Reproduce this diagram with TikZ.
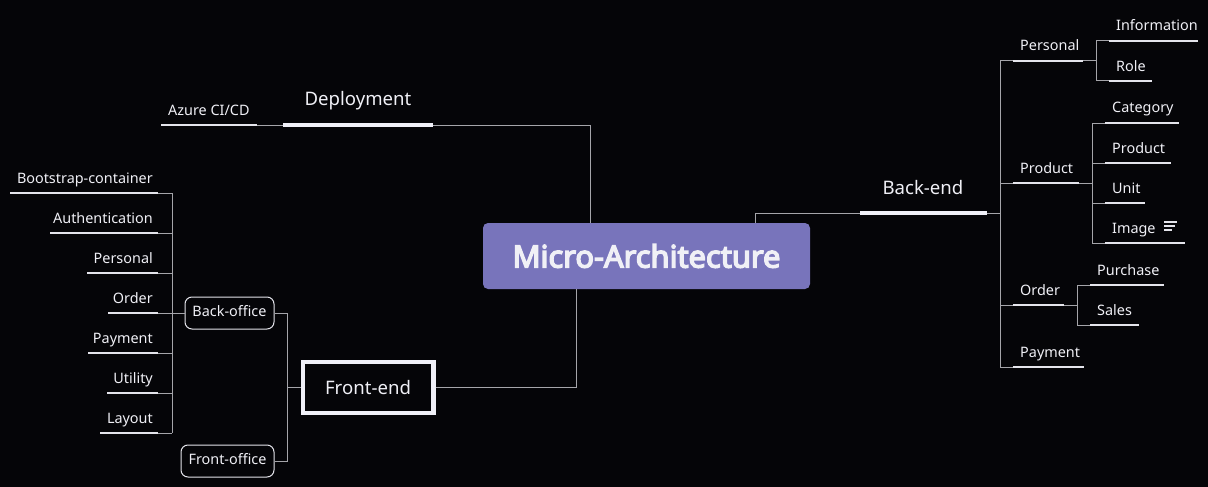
\documentclass[tikz,border=0pt]{standalone}
\usepackage{fontspec}
\setmainfont{Noto Sans}
\newfontfamily\titlefont{Noto Sans}[FakeBold=4.5]
\definecolor{bg}{RGB}{5,5,8}
\definecolor{mainfill}{RGB}{120,116,187}
\definecolor{txt}{RGB}{240,240,246}
\definecolor{conn}{RGB}{165,165,170}
\definecolor{uln}{RGB}{228,228,235}
\definecolor{brd}{RGB}{240,240,248}
\tikzset{
  lbl/.style={font=\fontsize{14.4}{16}\selectfont, text=txt, inner xsep=0pt, inner ysep=0pt, text height=10.5pt, text depth=3pt},
  uline/.style={draw=uln, line width=1.1pt},
  thickbar/.style={draw=brd, line width=4pt},
  cn/.style={draw=conn, line width=1pt},
  big/.style={font=\fontsize{18.6}{20}\selectfont, text=txt, inner sep=0pt},
  rbox/.style={draw=uln, line width=1pt, rounded corners=7pt, font=\fontsize{14.4}{16}\selectfont, text=txt, inner sep=0pt, text height=10.5pt, text depth=3pt},
}
\begin{document}
\begin{tikzpicture}[x=1pt,y=-1pt]
\fill[bg] (0,0) rectangle (1208,487);
\useasboundingbox (0,0) rectangle (1208,487);

% central node
\node[fill=mainfill, rounded corners=5pt, minimum width=327pt, minimum height=66pt, inner sep=0pt,
      font=\titlefont\fontsize{30.8}{32}\selectfont, text=txt] (main) at (646.5,256) {Micro-Architecture};

% ---------- Deployment ----------
\coordinate (depL) at (283,125);
\coordinate (depR) at (433,125);
\node[big, anchor=base] (dep) at (358,106) {Deployment};
\draw[thickbar] (depL) -- (depR);
\coordinate (azL) at (161,125);
\coordinate (azR) at (257,125);
\node[lbl, anchor=base west] (az) at (168,115) {Azure CI/CD};
\draw[uline] (azL) -- (azR);
\draw[cn] (azR) -- (depL);
\draw[cn] (depR) -- (590,125) -- (590,223);

% ---------- Front-end ----------
\node[draw=brd, line width=4.5pt, minimum width=130.5pt, minimum height=51pt, inner sep=0pt, big] (fe) at (368,387.5) {Front-end};
\draw[cn] (fe.east) -- (576,387.5) -- (main.south -| 576,0);
\node[rbox, minimum width=89pt, minimum height=32pt] (bo) at (229.5,313) {Back-office};
\node[rbox, minimum width=93pt, minimum height=32pt] (fo) at (227.5,461) {Front-office};
\coordinate (fev) at (287,387.5);
\draw[cn] (fe.west) -- (fev);
\draw[cn] (bo.east) -- (287,313) -- (287,461) -- (fo.east);

% back-office children
\coordinate (bov) at (172,313);
\draw[cn] (bo.west) -- (bov);
\draw[cn] (172,193) -- (172,433);
\foreach \name/\txt/\yy/\xl in {b1/Bootstrap-container/193/10, b2/Authentication/233/50, b3/Personal/273/87, b4/Order/313/108, b5/Payment/353/88, b6/Utility/393/107, b7/Layout/433/100}{
  \node[lbl, anchor=base east] (\name) at (153,\yy-10) {\txt};
  \draw[uline] (\xl,\yy) -- (158,\yy);
  \draw[cn] (158,\yy) -- (172,\yy);
}

% ---------- Back-end ----------
\coordinate (beL) at (860,213);
\coordinate (beR) at (987,213);
\node[big, anchor=base] (be) at (923,194) {Back-end};
\draw[thickbar] (beL) -- (beR);
\draw[cn] (beL) -- (755,213) -- (755,223);
\draw[cn] (beR) -- (1000,213);
\draw[cn] (1000,61) -- (1000,367);

% level 1 right
\foreach \name/\txt/\yy/\xr/\xv in {r1/Personal/61/1083/1096, r2/Product/183/1079/1092, r3/Order/305/1064/1077, r4/Payment/367/1084/1084}{
  \node[lbl, anchor=base west] (\name) at (1020,\yy-10) {\txt};
  \draw[cn] (1000,\yy) -- (1013,\yy);
  \draw[uline] (1013,\yy) -- (\xr,\yy);
  \draw[cn] (\xr,\yy) -- (\xv,\yy);
}
% personal children
\draw[cn] (1096,41) -- (1096,81);
\foreach \name/\txt/\yy/\xr in {p1/Information/41/1198, p2/Role/81/1152}{
  \node[lbl, anchor=base west] (\name) at (1116,\yy-10) {\txt};
  \draw[cn] (1096,\yy) -- (1109,\yy);
  \draw[uline] (1109,\yy) -- (\xr,\yy);
}
% product children
\draw[cn] (1092,123) -- (1092,243);
\foreach \name/\txt/\yy/\xr in {q1/Category/123/1179, q2/Product/163/1171, q3/Unit/203/1145, q4/Image/243/1185}{
  \node[lbl, anchor=base west] (\name) at (1112,\yy-10) {\txt};
  \draw[cn] (1092,\yy) -- (1105,\yy);
  \draw[uline] (1105,\yy) -- (\xr,\yy);
}
% note icon
\draw[uln, line width=1.1pt] (1164,222) -- (1177,222) (1164,226) -- (1175,226) (1164,230) -- (1172,230);
% order children
\draw[cn] (1077,285) -- (1077,325);
\foreach \name/\txt/\yy/\xr in {o1/Purchase/285/1164, o2/Sales/325/1139}{
  \node[lbl, anchor=base west] (\name) at (1097,\yy-10) {\txt};
  \draw[cn] (1077,\yy) -- (1090,\yy);
  \draw[uline] (1090,\yy) -- (\xr,\yy);
}
\end{tikzpicture}
\end{document}
